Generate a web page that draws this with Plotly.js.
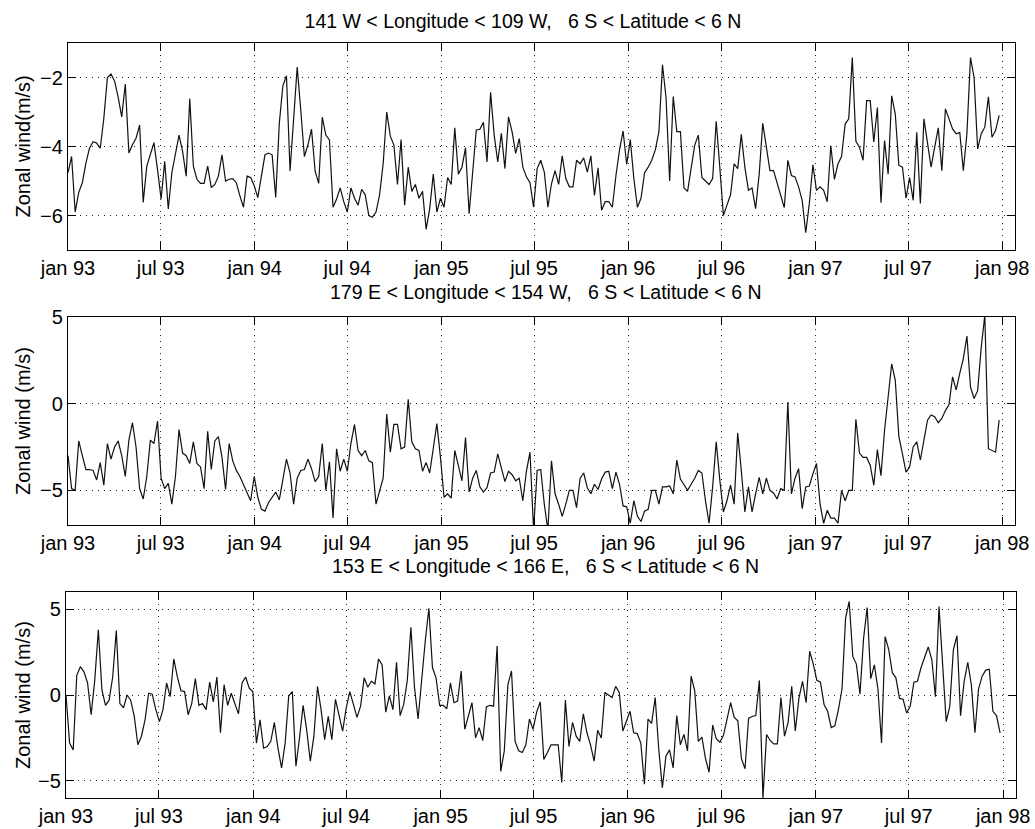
<!DOCTYPE html>
<html>
<head>
<meta charset="utf-8">
<script src="https://cdn.plot.ly/plotly-3.0.1.min.js"></script>
<style>html,body{margin:0;padding:0;background:#fff;}#chart{width:1035px;height:829px;}</style>
</head>
<body>
<div id="chart"></div>
<script>
// Weekly sampling of the series
const startDate = '1993-01-01';
const stepDays = 7;

const tickDates = ['1993-01-01','1993-07-01','1994-01-01','1994-07-01','1995-01-01','1995-07-01',
                   '1996-01-01','1996-07-01','1997-01-01','1997-07-01','1998-01-01'];
const tickLabels = ['jan 93','jul 93','jan 94','jul 94','jan 95','jul 95',
                    'jan 96','jul 96','jan 97','jul 97','jan 98'];

const panelTitles = [
  '141 W < Longitude < 109 W,   6 S < Latitude < 6 N',
  '179 E < Longitude < 154 W,   6 S < Latitude < 6 N',
  '153 E < Longitude < 166 E,   6 S < Latitude < 6 N'
];
const yTitles = ['Zonal wind(m/s)', 'Zonal wind (m/s)', 'Zonal wind (m/s)'];

// Zonal wind (m/s), 141W-109W
const windEast = [
-4.76,-4.29,-5.9,-5.33,-5.05,-4.48,-4.05,-3.86,-3.9,-4.05,
-3.19,-2.0,-1.9,-2.1,-2.57,-3.14,-2.19,-4.19,-3.95,-3.76,
-3.38,-5.62,-4.57,-4.19,-3.89,-4.67,-5.52,-4.43,-5.81,-4.76,
-4.24,-3.67,-4.14,-4.86,-2.62,-4.57,-4.95,-5.07,-5.07,-4.57,
-5.19,-5.1,-4.86,-4.24,-5.0,-4.95,-4.93,-5.05,-5.43,-5.76,
-4.86,-4.9,-5.14,-5.48,-4.86,-4.24,-4.19,-4.24,-5.48,-3.33,
-2.24,-1.95,-4.71,-3.24,-1.7,-2.95,-4.29,-3.95,-3.5,-4.71,
-5.07,-3.15,-3.67,-3.81,-5.76,-5.52,-5.2,-5.6,-5.9,-5.2,
-5.5,-5.7,-5.24,-5.4,-6.0,-6.05,-5.9,-5.4,-4.5,-3.0,
-3.7,-3.96,-5.1,-3.8,-5.7,-4.6,-5.3,-5.1,-5.5,-5.3,
-6.4,-5.8,-4.8,-5.9,-5.5,-5.76,-4.9,-5.1,-3.46,-4.8,
-4.6,-4.04,-5.95,-4.74,-3.52,-3.5,-3.3,-4.45,-2.43,-3.67,
-4.45,-3.62,-4.64,-3.14,-3.57,-4.2,-3.77,-4.6,-4.88,-5.05,
-5.76,-4.64,-4.4,-4.74,-5.76,-5.08,-4.7,-5.1,-4.27,-4.93,
-5.17,-5.17,-4.4,-4.5,-4.33,-4.74,-4.27,-5.42,-4.62,-5.85,
-5.6,-5.6,-5.76,-4.84,-4.1,-3.55,-4.52,-3.8,-4.93,-5.76,
-5.5,-4.76,-4.6,-4.4,-4.1,-3.57,-1.63,-2.6,-5.0,-2.55,
-3.57,-3.57,-5.2,-5.3,-4.64,-3.96,-3.67,-4.9,-5.0,-5.1,
-4.93,-3.27,-4.6,-6.0,-5.7,-5.4,-4.5,-4.64,-3.65,-4.6,
-5.27,-5.2,-5.8,-4.8,-3.33,-4.0,-4.7,-4.7,-5.06,-5.35,
-5.77,-4.4,-4.84,-4.88,-5.17,-5.56,-6.5,-5.65,-4.53,-5.27,
-5.17,-5.27,-5.6,-3.97,-4.95,-4.5,-4.29,-3.35,-3.2,-1.42,
-3.85,-4.02,-4.4,-2.67,-2.67,-3.87,-2.87,-5.63,-3.83,-4.8,
-2.53,-3.06,-4.55,-4.6,-5.5,-4.9,-5.56,-3.59,-5.65,-3.2,
-3.87,-4.6,-4.02,-3.46,-4.7,-2.91,-3.2,-3.49,-3.63,-3.59,
-4.7,-3.63,-1.42,-2.0,-4.07,-3.63,-3.44,-2.56,-3.73,-3.54,
-3.1
];

// Zonal wind (m/s), 179E-154W
const windCentral = [
-3.0,-4.9,-5.0,-2.15,-3.0,-3.8,-3.8,-3.85,-4.4,-3.4,
-4.7,-2.3,-3.2,-2.5,-2.15,-3.0,-4.2,-2.1,-1.1,-2.5,
-4.9,-5.5,-4.2,-2.1,-2.3,-1.0,-4.3,-4.9,-4.6,-5.8,
-4.2,-1.5,-2.85,-3.0,-3.45,-2.2,-3.45,-3.65,-4.9,-1.6,
-3.8,-2.15,-1.9,-3.1,-4.95,-2.3,-3.3,-3.85,-4.2,-4.7,
-5.15,-5.6,-4.2,-5.4,-6.1,-6.2,-5.7,-5.4,-5.1,-5.55,
-4.3,-3.2,-4.0,-5.8,-4.3,-3.85,-3.8,-3.2,-3.75,-4.5,
-4.2,-2.3,-5.0,-3.35,-6.6,-2.6,-3.9,-3.2,-3.9,-2.3,
-1.2,-2.7,-3.0,-2.7,-3.3,-3.4,-5.8,-5.0,-4.3,-0.6,
-2.8,-1.2,-1.2,-2.6,-2.5,0.25,-2.2,-2.6,-2.7,-3.9,
-3.4,-4.0,-2.7,-1.15,-3.1,-5.4,-5.2,-5.45,-2.7,-3.5,
-4.45,-1.95,-5.1,-4.3,-3.85,-4.8,-5.1,-4.85,-4.0,-3.95,
-2.9,-3.7,-4.5,-3.9,-4.1,-4.45,-4.3,-5.6,-3.9,-2.8,
-7.3,-3.85,-3.8,-5.8,-7.3,-3.3,-5.2,-5.8,-6.5,-5.8,
-5.0,-5.0,-6.0,-4.3,-4.0,-4.85,-5.2,-4.65,-4.95,-4.35,
-3.95,-3.9,-4.9,-3.95,-4.65,-5.9,-5.95,-6.9,-5.6,-6.5,
-6.8,-6.2,-6.1,-5.0,-5.0,-5.8,-4.8,-4.8,-4.75,-5.2,
-3.25,-4.35,-4.65,-5.0,-4.65,-4.3,-3.85,-4.0,-5.6,-6.9,
-4.8,-2.2,-4.4,-6.25,-5.6,-4.7,-5.8,-1.7,-3.85,-6.25,
-4.8,-6.25,-5.2,-4.25,-5.2,-4.3,-5.0,-5.15,-5.5,-4.9,
-5.0,0.1,-5.2,-4.3,-3.75,-6.05,-4.8,-4.75,-4.05,-3.45,
-5.8,-6.9,-6.15,-6.6,-6.6,-6.9,-5.0,-5.6,-5.0,-5.0,
-0.9,-2.85,-3.1,-3.1,-3.55,-4.7,-2.65,-4.15,-1.55,0.4,
2.3,1.35,-1.9,-2.9,-3.95,-3.65,-2.5,-2.2,-3.25,-2.1,
-0.95,-0.65,-0.75,-1.1,-0.85,-0.4,-0.05,1.55,0.8,1.75,
2.6,3.9,0.95,0.3,0.75,3.25,5.1,-2.6,-2.7,-2.8,
-0.95
];

// Zonal wind (m/s), 153E-166E
const windWest = [
0.0,-2.8,-3.2,1.15,1.65,1.35,0.7,-1.15,0.85,3.8,
0.3,-0.6,-0.3,1.05,3.75,-0.5,-0.75,0.0,-0.3,-1.25,
-2.9,-2.4,-1.45,0.1,0.05,-0.85,-1.55,-0.85,0.7,-0.1,
2.1,1.05,0.25,0.2,-1.15,-0.5,0.95,-0.6,-0.5,-0.85,
0.75,-0.4,1.05,-2.2,0.6,-0.6,0.1,-0.5,-1.1,0.7,
1.05,0.4,0.2,-2.8,-1.45,-3.1,-3.0,-2.7,-1.6,-3.1,
-4.25,-2.8,-0.05,0.2,-4.15,-2.5,-0.6,-2.05,-3.85,-2.4,
0.5,-0.85,-2.6,-1.25,-2.6,-0.25,-1.1,-2.1,-0.75,0.2,
-0.55,-1.3,-0.65,1.0,0.45,0.8,0.65,2.1,1.75,-1.0,
-0.05,-0.85,1.9,-1.2,-0.55,0.85,3.95,0.45,-1.4,1.0,
3.15,5.05,1.6,1.0,-0.6,-0.6,-0.8,0.7,-0.45,-0.35,
1.4,-2.0,-1.15,-0.45,-2.5,-1.9,-2.65,-0.7,-0.6,-0.65,
2.85,-4.45,-3.25,0.6,1.4,-2.7,-3.25,-3.35,-2.9,-1.4,
-2.0,-1.0,-0.4,-3.75,-3.35,-2.9,-2.9,-2.9,-5.1,-0.3,
-3.0,-1.6,-2.4,-2.7,-1.1,-2.2,-2.9,-3.85,-2.05,-2.5,
0.15,0.0,-0.15,0.5,0.15,-2.1,-1.5,-0.95,-2.2,-2.25,
-2.8,-5.2,-1.4,-1.65,-0.15,-3.2,-5.4,-3.55,-3.2,-4.25,
-1.2,-2.9,-2.3,-3.25,1.1,0.25,-2.7,-2.45,-3.7,-4.5,
-1.75,-2.55,-2.75,-2.35,-1.4,-0.45,-1.3,-1.5,-3.7,-4.3,
-1.35,-1.25,-1.2,0.85,-6.0,-2.3,-2.65,-2.85,-2.85,-0.15,
-2.4,-1.6,0.5,-2.1,-0.2,0.8,-0.45,2.55,1.8,0.85,
0.75,-0.55,-0.95,-1.9,-1.8,-0.85,0.35,4.5,5.45,2.25,
1.8,0.05,3.3,5.1,0.95,1.75,0.35,-2.8,3.4,2.65,
1.3,1.0,-0.2,-0.25,-1.05,-0.65,0.75,0.8,1.6,2.25,
2.8,2.05,-0.1,5.15,1.5,-1.55,-0.65,2.65,3.45,-1.2,
0.8,1.9,0.6,-2.2,0.35,1.1,1.45,1.5,-0.95,-1.2,
-2.2
];

function weeklyDates(n) {
  const t0 = Date.parse(startDate + 'T00:00:00Z');
  const out = [];
  for (let i = 0; i < n; i++) {
    out.push(new Date(t0 + i * stepDays * 86400000).toISOString().slice(0, 10));
  }
  return out;
}

const FONT = 'Liberation Sans, Arial, Helvetica, sans-serif';
const series = [windEast, windCentral, windWest];
const traces = series.map((vals, k) => ({
  type: 'scatter', mode: 'lines',
  x: weeklyDates(vals.length), y: vals,
  xaxis: k === 0 ? 'x' : 'x' + (k + 1),
  yaxis: k === 0 ? 'y' : 'y' + (k + 1),
  line: {color: '#111', width: 1.2},
  hoverinfo: 'skip'
}));

function xAxis(domain, anchor) {
  return {
    type: 'date', domain: domain, anchor: anchor,
    range: ['1993-01-01', '1998-01-26'],
    tickmode: 'array', tickvals: tickDates, ticktext: tickLabels,
    ticks: 'inside', ticklen: 8, tickwidth: 1, tickcolor: '#000',
    showline: true, linecolor: '#000', linewidth: 1.2, mirror: 'ticks',
    showgrid: true, gridcolor: '#222', gridwidth: 1, griddash: '1px,5px',
    zeroline: false, tickangle: 0,
    tickfont: {family: FONT, size: 20, color: '#000'}
  };
}
function yAxis(domain, anchor, range, tv) {
  return {
    domain: domain, anchor: anchor, range: range,
    tickmode: 'array', tickvals: tv,
    ticks: 'inside', ticklen: 8, tickwidth: 1, tickcolor: '#000',
    showline: true, linecolor: '#000', linewidth: 1.2, mirror: 'ticks',
    showgrid: true, gridcolor: '#222', gridwidth: 1, griddash: '1px,5px',
    zeroline: false,
    tickfont: {family: FONT, size: 20, color: '#000'}
  };
}

const W = 1035, H = 829;
const xd1 = [68 / W, 1015 / W], xd3 = [66 / W, 1016 / W];
const yd1 = [1 - 250 / H, 1 - 43 / H];
const yd2 = [1 - 525 / H, 1 - 317 / H];
const yd3 = [1 - 798 / H, 1 - 592 / H];

const layout = {
  width: W, height: H,
  margin: {l: 0, r: 0, t: 0, b: 0},
  paper_bgcolor: '#fff', plot_bgcolor: '#fff',
  showlegend: false,
  font: {family: FONT, color: '#000'},
  title: {text: panelTitles[0], x: 523 / W, xanchor: 'center', xref: 'paper',
          y: 1 - 21.5 / H, yanchor: 'middle', font: {family: FONT, size: 19.5, color: '#000'}},
  xaxis: xAxis(xd1, 'y'),
  yaxis: yAxis(yd1, 'x', [-7, -1], [-6, -4, -2]),
  xaxis2: xAxis(xd1, 'y2'),
  yaxis2: yAxis(yd2, 'x2', [-7, 5], [-5, 0, 5]),
  xaxis3: xAxis(xd3, 'y3'),
  yaxis3: yAxis(yd3, 'x3', [-6, 6], [-5, 0, 5]),
  annotations: [
    {text: panelTitles[1], xref: 'paper', yref: 'paper', x: 545 / W, y: 1 - 292 / H,
     xanchor: 'center', yanchor: 'middle', showarrow: false, font: {family: FONT, size: 19.5, color: '#000'}},
    {text: panelTitles[2], xref: 'paper', yref: 'paper', x: 545 / W, y: 1 - 566 / H,
     xanchor: 'center', yanchor: 'middle', showarrow: false, font: {family: FONT, size: 19.5, color: '#000'}},
    {text: yTitles[0], xref: 'paper', yref: 'paper', x: 23 / W, y: (yd1[0] + yd1[1]) / 2,
     xanchor: 'center', yanchor: 'middle', textangle: -90, showarrow: false, font: {family: FONT, size: 20, color: '#000'}},
    {text: yTitles[1], xref: 'paper', yref: 'paper', x: 23 / W, y: (yd2[0] + yd2[1]) / 2,
     xanchor: 'center', yanchor: 'middle', textangle: -90, showarrow: false, font: {family: FONT, size: 20, color: '#000'}},
    {text: yTitles[2], xref: 'paper', yref: 'paper', x: 23 / W, y: (yd3[0] + yd3[1]) / 2,
     xanchor: 'center', yanchor: 'middle', textangle: -90, showarrow: false, font: {family: FONT, size: 20, color: '#000'}}
  ]
};

Plotly.newPlot('chart', traces, layout, {staticPlot: true, displayModeBar: false});
</script>
</body>
</html>
